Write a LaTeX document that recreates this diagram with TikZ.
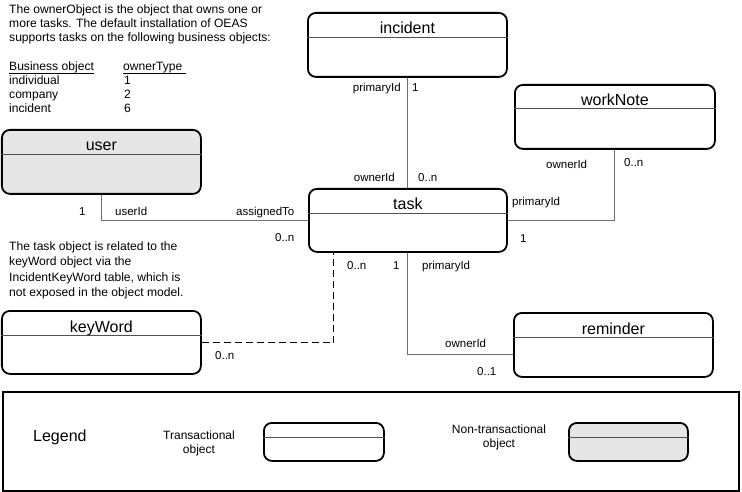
\documentclass[tikz,border=0pt]{standalone}
\usepackage{fontspec}
\setmainfont{Liberation Sans}
\definecolor{boxgray}{HTML}{E6E6E6}
\definecolor{linegray}{HTML}{6E6E6E}
\definecolor{hdrgray}{HTML}{505050}
\newcommand\objbox[8]{%
  \node[#7, minimum width=#4pt, minimum height=#5pt] (#1) at (#2,#3) {};
  \draw[hdr] ([yshift=-#8pt]#1.north west) -- ([yshift=-#8pt]#1.north east);
}
\begin{document}
\begin{tikzpicture}[x=1pt,y=-1pt,
  obj/.style={draw=black, line width=1.8pt, rounded corners=8pt, anchor=north west, inner sep=0pt, fill=white},
  ntobj/.style={obj, fill=boxgray},
  hdr/.style={draw=hdrgray, line width=1pt},
  ttl/.style={font=\fontsize{16}{18}\selectfont, anchor=base, inner sep=0pt},
  lbl/.style={font=\fontsize{11.5}{13}\selectfont, inner sep=0pt, anchor=base west},
  para/.style={font=\fontsize{12.1}{14}\selectfont, inner sep=0pt, anchor=base west},
  uline/.style={draw=black, line width=0.8pt},
  conn/.style={draw=linegray, line width=1pt},
  dconn/.style={draw=black, line width=1pt, dash pattern=on 7pt off 4pt},
]
\useasboundingbox (0,0) rectangle (742,492);

% paragraph 1
\node[para] (p1a) at (9,14) {The ownerObject is the object that owns one or};
\node[para] (p1b) at (9,28) {more tasks. The default installation of OEAS};
\node[para] (p1c) at (9,42) {supports tasks on the following business objects:};
\node[para] (th1) at (9,71) {Business object};
\node[para] (th2) at (123,71) {ownerType};
\draw[uline] ([yshift=-2pt]th1.base west) -- ([yshift=-2pt]th1.base east);
\draw[uline] ([yshift=-2pt]th2.base west) -- ([yshift=-2pt,xshift=3pt]th2.base east);
\node[para] (r1a) at (9,85) {individual};
\node[para] (r1b) at (124,85) {1};
\node[para] (r2a) at (9,99) {company};
\node[para] (r2b) at (124,99) {2};
\node[para] (r3a) at (9,113) {incident};
\node[para] (r3b) at (124,113) {6};

% paragraph 2
\node[para] (p2a) at (9,250) {The task object is related to the};
\node[para] (p2b) at (9,265) {keyWord object via the};
\node[para] (p2c) at (9,281) {IncidentKeyWord table, which is};
\node[para] (p2d) at (9,296) {not exposed in the object model.};

% boxes
\objbox{incident}{307}{12}{199}{64}{incident}{obj}{26}
\objbox{workNote}{514}{84}{200}{64}{workNote}{obj}{25}
\objbox{task}{308}{188}{198}{63}{task}{obj}{25}
\objbox{user}{1}{129}{199}{64}{user}{ntobj}{26}
\objbox{keyWord}{1}{310}{199}{63}{keyWord}{obj}{25}
\objbox{reminder}{513}{312}{199}{64}{reminder}{obj}{25}
\node[ttl] (tIncident) at ([yshift=-22pt]incident.north) {incident};
\node[ttl] (tWorkNote) at ([yshift=-22pt]workNote.north) {workNote};
\node[ttl] (tTask) at ([yshift=-22pt]task.north) {task};
\node[ttl] (tUser) at ([yshift=-22pt]user.north) {user};
\node[ttl] (tKeyWord) at ([yshift=-22pt]keyWord.north) {keyWord};
\node[ttl] (tReminder) at ([yshift=-22pt]reminder.north) {reminder};

% connectors
\draw[conn] (incident.south) -- (incident.south |- task.north);
\draw[conn] (workNote.south) |- (task.east);
\draw[conn] (user.south) |- (task.west);
\draw[dconn] (keyWord.east) -| ([xshift=-74pt]task.south);
\draw[conn] (task.south) |- ([yshift=-10pt]reminder.west);

% labels
\node[lbl, anchor=base east] (l1) at (401,92) {primaryId};
\node[lbl] (l2) at (412,92) {1};
\node[lbl, anchor=base east] (l3) at (395,182) {ownerId};
\node[lbl] (l4) at (418,182) {0..n};
\node[lbl] (l5) at (546,169) {ownerId};
\node[lbl] (l6) at (624,167) {0..n};
\node[lbl] (l7) at (512,205) {primaryId};
\node[lbl] (l8) at (520,242) {1};
\node[lbl] (l9) at (79,215) {1};
\node[lbl] (l10) at (115,215) {userId};
\node[lbl] (l11) at (236,215) {assignedTo};
\node[lbl] (l12) at (275,241) {0..n};
\node[lbl] (l13) at (347,269) {0..n};
\node[lbl] (l14) at (215,359) {0..n};
\node[lbl] (l15) at (393,269) {1};
\node[lbl] (l16) at (422,269) {primaryId};
\node[lbl] (l17) at (445,347) {ownerId};
\node[lbl] (l18) at (477,375) {0..1};

% legend
\node[draw=black, line width=1.6pt, anchor=north west, minimum width=736pt, minimum height=99pt, inner sep=0pt] (legendframe) at (2,391) {};
\node[font=\fontsize{16}{18}\selectfont, inner sep=0pt, anchor=base west] (legendtxt) at (33,441) {Legend};
\node[font=\fontsize{12}{14}\selectfont, inner sep=0pt, align=center, anchor=center] (trtxt) at (199,443) {Transactional\\object};
\node[font=\fontsize{12}{14}\selectfont, inner sep=0pt, align=center, anchor=center] (nttxt) at (499,437) {Non-transactional\\object};
\objbox{legT}{263}{422}{120}{38}{}{obj}{15}
\objbox{legN}{568}{422}{119}{38}{}{ntobj}{15}
\end{tikzpicture}
\end{document}
